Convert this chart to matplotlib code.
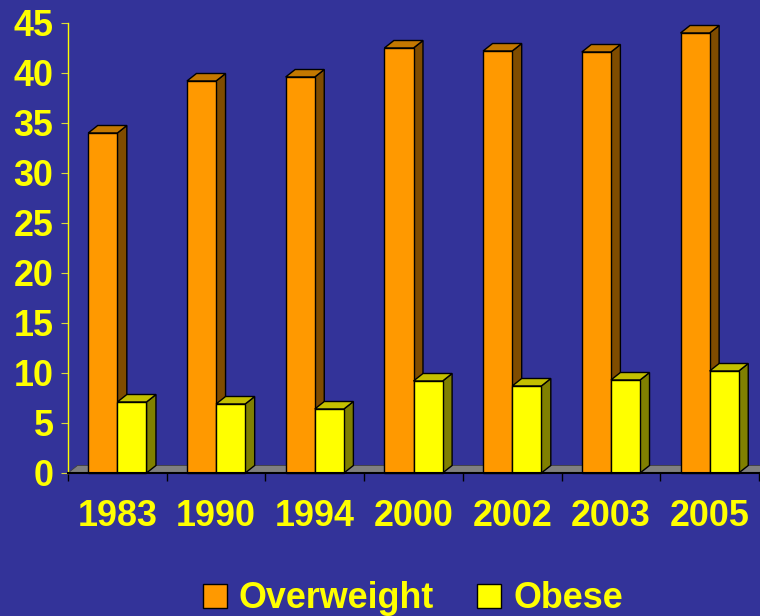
import matplotlib
matplotlib.use('Agg')
import matplotlib.pyplot as plt
from matplotlib.patches import Polygon, Rectangle

# ---- data ----
years = ['1983', '1990', '1994', '2000', '2002', '2003', '2005']
overweight = [34.0, 39.2, 39.6, 42.5, 42.2, 42.1, 44.0]
obese = [7.1, 6.9, 6.4, 9.2, 8.7, 9.3, 10.2]
series_names = ['Overweight', 'Obese']
yticks = [0, 5, 10, 15, 20, 25, 30, 35, 40, 45]

# ---- style ----
BG = '#333399'
TXT = '#FFFF00'
FONT = 'Liberation Sans'
FS = 25.8
front_cols = ['#FF9900', '#FFFF00']
side_cols = ['#7F4C00', '#808000']
top_cols = ['#C47800', '#C4C000']
W = 0.295          # bar width in category units
DX, DY = 0.096, 0.75  # 3-D depth offset in data units

fig = plt.figure(figsize=(7.6, 6.16), dpi=100, facecolor=BG)
ax = fig.add_axes([68 / 760, 143 / 616, 691 / 760, 450 / 616])
ax.set_facecolor('none')
n = len(years)
ax.set_xlim(-0.5, n - 0.5)
ax.set_ylim(0, 45)

# floor
floor = Polygon([(-0.5, 0), (-0.5 + DX, DY), (n - 0.5 + DX, DY), (n - 0.5, 0)],
                closed=True, facecolor='#808080', edgecolor='#404040', lw=0.6,
                zorder=1, clip_on=False)
ax.add_patch(floor)

for s, vals in enumerate([overweight, obese]):
    xs = [i - W + s * W for i in range(n)]
    base_z = 2 + 2 * s
    ax.bar(xs, vals, width=W, align='edge', color=front_cols[s],
           edgecolor='black', linewidth=1.0, zorder=base_z + 1, clip_on=False)
    for x0, v in zip(xs, vals):
        x1 = x0 + W
        side = Polygon([(x1, 0), (x1 + DX, DY), (x1 + DX, v + DY), (x1, v)],
                       closed=True, facecolor=side_cols[s], edgecolor='black',
                       lw=1.0, zorder=base_z, clip_on=False)
        top = Polygon([(x0, v), (x0 + DX, v + DY), (x1 + DX, v + DY), (x1, v)],
                      closed=True, facecolor=top_cols[s], edgecolor='black',
                      lw=1.0, zorder=base_z, clip_on=False)
        ax.add_patch(side)
        ax.add_patch(top)

# spines
for sp in ['top', 'right']:
    ax.spines[sp].set_visible(False)
ax.spines['left'].set_color(TXT)
ax.spines['left'].set_linewidth(1.0)
ax.spines['bottom'].set_color('black')
ax.spines['bottom'].set_linewidth(1.5)
ax.spines['bottom'].set_zorder(10)

# y ticks
ax.set_yticks(yticks)
ax.set_yticklabels([str(t) for t in yticks], fontsize=FS, fontweight='bold',
                   color=TXT, family=FONT)
ax.tick_params(axis='y', direction='out', length=5, width=0.8, color='#D8D840',
               pad=5.5)

# x ticks: boundaries (major, no labels), centers (minor, labels)
ax.set_xticks([i - 0.5 for i in range(n + 1)])
ax.set_xticklabels([''] * (n + 1))
ax.set_xticks(list(range(n)), minor=True)
ax.set_xticklabels(years, minor=True, fontsize=FS, fontweight='bold',
                   color=TXT, family=FONT)
ax.tick_params(axis='x', which='major', direction='out', length=5.8, width=1.0,
               color='black')
ax.tick_params(axis='x', which='minor', length=0, pad=18.5)

# legend
handles = [Rectangle((0, 0), 1, 1, facecolor=front_cols[s], edgecolor='black',
                     lw=1.0) for s in range(2)]
leg = fig.legend(handles, series_names, loc='center', ncol=2,
                 bbox_to_anchor=(413 / 760, 17 / 616), frameon=False,
                 handlelength=0.67, handleheight=0.67, handletextpad=0.34,
                 columnspacing=1.2, borderpad=0, borderaxespad=0,
                 prop={'family': FONT, 'weight': 'bold', 'size': FS})
for t in leg.get_texts():
    t.set_color(TXT)

fig.savefig('out.png', dpi=100, facecolor=BG)
